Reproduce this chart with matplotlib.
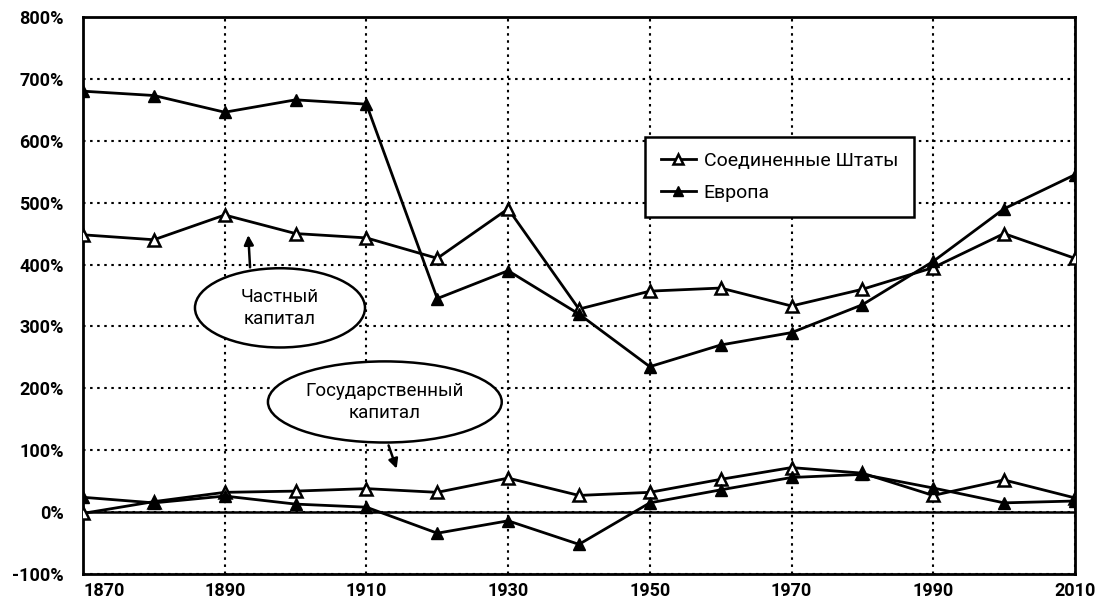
import matplotlib
matplotlib.use("Agg")
import matplotlib.pyplot as plt
from matplotlib.patches import Ellipse

plt.rcParams['font.family'] = ['Roboto', 'DejaVu Sans']

years = [1870, 1880, 1890, 1900, 1910, 1920, 1930, 1940, 1950, 1960, 1970, 1980, 1990, 2000, 2010]

# частный капитал, % национального дохода
us_private = [448, 440, 480, 450, 443, 410, 490, 328, 357, 362, 333, 360, 395, 450, 410]
eu_private = [680, 673, 646, 666, 659, 345, 390, 320, 235, 270, 290, 335, 405, 490, 545]

# государственный капитал
us_public = [-2, 17, 32, 34, 38, 32, 55, 27, 32, 53, 72, 63, 27, 52, 23]
eu_public = [24, 15, 26, 13, 8, -34, -14, -52, 15, 36, 56, 61, 39, 15, 18]

labels = ["Соединенные Штаты", "Европа"]
yticks = list(range(-100, 801, 100))
xticks = list(range(1870, 2011, 20))

fig = plt.figure(figsize=(11.07, 6.03), dpi=100)
ax = fig.add_axes([0.075, 0.048, 0.896, 0.924])

ax.plot(years, us_private, color="black", lw=2, marker="^", ms=9,
        markerfacecolor="white", markeredgecolor="black", mew=1.8, label=labels[0], zorder=4)
ax.plot(years, eu_private, color="black", lw=2, marker="^", ms=9,
        markerfacecolor="black", markeredgecolor="black", label=labels[1], zorder=4)
ax.plot(years, us_public, color="black", lw=2, marker="^", ms=9,
        markerfacecolor="white", markeredgecolor="black", mew=1.8, zorder=4)
ax.plot(years, eu_public, color="black", lw=2, marker="^", ms=9,
        markerfacecolor="black", markeredgecolor="black", zorder=4)

ax.axhline(0, color="black", lw=1.8, zorder=3)

ax.set_xlim(1870, 2010)
ax.set_ylim(-100, 800)
ax.set_xticks(xticks)
ax.set_yticks(yticks)
ax.set_yticklabels([f"{v}%" for v in yticks])
ax.tick_params(axis="y", length=0, labelsize=13, pad=14)
ax.tick_params(axis="x", length=0, labelsize=13, pad=6)
for lab in ax.get_xticklabels() + ax.get_yticklabels():
    lab.set_fontweight("bold")
ax.get_xticklabels()[0].set_horizontalalignment("left")
ax.grid(True, color="black", linestyle=(0, (1.2, 2.2)), lw=1.5)
for s in ax.spines.values():
    s.set_linewidth(2)

# подписи-овалы
ax.add_patch(Ellipse((1897.8, 330), 24, 128, facecolor="white", edgecolor="black", lw=1.8, zorder=5))
ax.text(1897.8, 330, "Частный\nкапитал", ha="center", va="center", fontsize=13.5, zorder=6, linespacing=1.25)
ax.annotate("", xy=(1893.3, 452), xytext=(1893.6, 391),
            arrowprops=dict(arrowstyle="-|>", color="black", lw=1.8, mutation_scale=14), zorder=6)

ax.add_patch(Ellipse((1912.6, 178), 33, 131, facecolor="white", edgecolor="black", lw=1.8, zorder=5))
ax.text(1912.6, 178, "Государственный\nкапитал", ha="center", va="center", fontsize=13.5, zorder=6, linespacing=1.25)
ax.annotate("", xy=(1914.4, 66), xytext=(1913, 112),
            arrowprops=dict(arrowstyle="-|>", color="black", lw=1.8, mutation_scale=14), zorder=6)

leg = ax.legend(loc="upper left", bbox_to_anchor=(0.567, 0.785), fontsize=14,
                frameon=True, fancybox=False, handlelength=1.8, borderpad=0.8,
                labelspacing=0.7, handletextpad=0.4, borderaxespad=0, markerscale=0.8)
leg.get_frame().set_edgecolor("black")
leg.get_frame().set_linewidth(1.8)
leg.get_frame().set_alpha(1)
leg.set_zorder(7)

fig.savefig("out.png", dpi=100)
